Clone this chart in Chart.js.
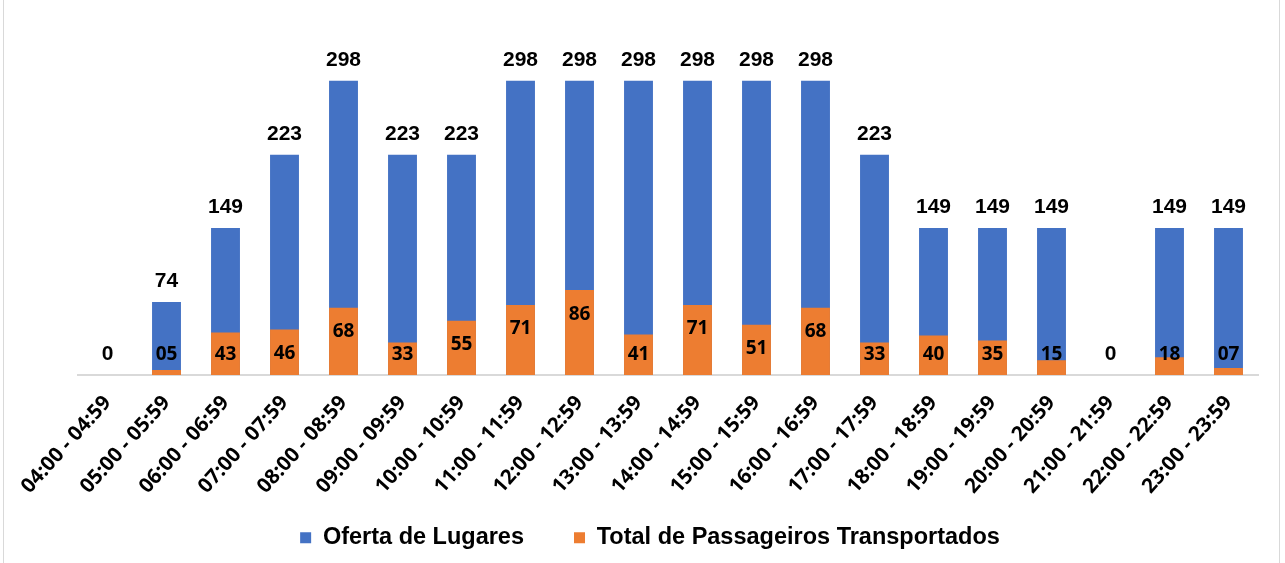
<!DOCTYPE html>
<html>
<head>
<meta charset="utf-8">
<script src="https://cdn.jsdelivr.net/npm/chart.js@4/dist/chart.umd.min.js"></script>
<style>
  html, body { margin: 0; padding: 0; background: #fff; }
  #wrap { position: relative; width: 1285px; height: 563px; }
  #frame { position: absolute; left: 3px; top: 0; width: 1275px; height: 563px;
           border-left: 1px solid #d9d9d9; border-right: 1px solid #d9d9d9; box-sizing: content-box; pointer-events: none; }
  canvas { position: absolute; left: 0; top: 0; }
</style>
</head>
<body>
<div id="wrap">
  <canvas id="c" width="1285" height="563"></canvas>
  <div id="frame"></div>
</div>
<script>
const categories = ["04:00 - 04:59","05:00 - 05:59","06:00 - 06:59","07:00 - 07:59","08:00 - 08:59",
  "09:00 - 09:59","10:00 - 10:59","11:00 - 11:59","12:00 - 12:59","13:00 - 13:59","14:00 - 14:59",
  "15:00 - 15:59","16:00 - 16:59","17:00 - 17:59","18:00 - 18:59","19:00 - 19:59","20:00 - 20:59",
  "21:00 - 21:59","22:00 - 22:59","23:00 - 23:59"];
const ofertaLugares = [0, 74, 149, 223, 298, 223, 223, 298, 298, 298, 298, 298, 298, 223, 149, 149, 149, 0, 149, 149];
const totalPassageiros = [0, 5, 43, 46, 68, 33, 55, 71, 86, 41, 71, 51, 68, 33, 40, 35, 15, 0, 18, 7];
const seriesNames = ["Oferta de Lugares", "Total de Passageiros Transportados"];

function fmt(v) { return v === 0 ? "0" : (v < 10 ? "0" + v : String(v)); }

const labelPlugin = {
  id: 'valueLabels',
  afterLayout(chart) {
    // let rotated tick labels extend below the x-axis box without being clipped
    const s = chart.scales.x;
    s.bottom = chart.height;
    s.height = s.bottom - s.top;
  },
  afterDatasetsDraw(chart) {
    const ctx = chart.ctx;
    const base = chart.scales.y.getPixelForValue(0);
    ctx.save();
    ctx.fillStyle = '#000';
    ctx.textAlign = 'center';
    ctx.textBaseline = 'middle';
    const m0 = chart.getDatasetMeta(0);
    ctx.font = 'bold 21px "Liberation Sans", Arial, sans-serif';
    m0.data.forEach((bar, j) => {
      ctx.fillText(fmt(ofertaLugares[j]), bar.x, bar.y - 21);
    });
    const m1 = chart.getDatasetMeta(1);
    ctx.font = 'bold 19px "Open Sans", sans-serif';
    m1.data.forEach((bar, j) => {
      const v = totalPassageiros[j];
      if (v === 0) return;
      ctx.fillText(fmt(v), bar.x, Math.min(bar.y + 24, base - 20));
    });
    ctx.restore();
  }
};

new Chart(document.getElementById('c'), {
  type: 'bar',
  data: {
    labels: categories,
    datasets: [
      { label: seriesNames[0], data: ofertaLugares, backgroundColor: '#4472C4', grouped: false, order: 2,
        barPercentage: 0.49, categoryPercentage: 1.0 },
      { label: seriesNames[1], data: totalPassageiros, backgroundColor: '#ED7D31', grouped: false, order: 1,
        barPercentage: 0.49, categoryPercentage: 1.0 }
    ]
  },
  options: {
    responsive: false,
    animation: false,
    devicePixelRatio: 1,
    layout: { padding: { left: 42, right: 27, top: 29.5, bottom: 3.5 } },
    plugins: {
      legend: {
        position: 'bottom',
        labels: {
          boxWidth: 11, boxHeight: 11, padding: 50, color: '#000',
          font: { family: '"Liberation Sans", Arial, sans-serif', size: 23.5, weight: 'bold' },
          sort: (a, b) => a.datasetIndex - b.datasetIndex
        }
      },
      tooltip: { enabled: false }
    },
    scales: {
      x: {
        grid: { display: false, drawTicks: false },
        border: { display: true, color: '#d9d9d9', width: 2 },
        ticks: {
          color: '#000', maxRotation: 48, minRotation: 48, autoSkip: false, padding: 16,
          font: { family: '"Open Sans", sans-serif', size: 20.5, weight: 'bold' }
        },
        afterFit: (s) => { s.height = 101; }
      },
      y: {
        min: 0, max: 350,
        grid: { display: false, drawTicks: false },
        border: { display: false },
        ticks: { display: false },
        afterFit: (s) => { s.width = 36; }
      }
    }
  },
  plugins: [labelPlugin]
});
</script>
</body>
</html>
